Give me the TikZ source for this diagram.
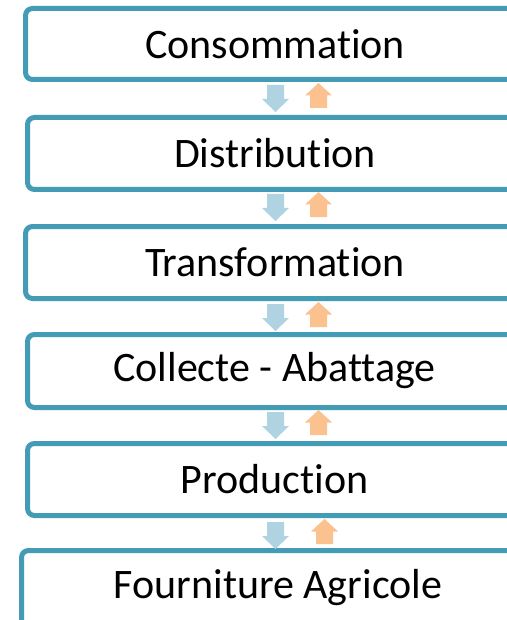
\documentclass[tikz,border=0pt]{standalone}
\usepackage{fontspec}
\setmainfont{Carlito}[Ligatures={NoCommon,NoContextual,NoRequired}]
\definecolor{bordc}{HTML}{449BB5}
\definecolor{downc}{HTML}{AFD3E1}
\definecolor{upc}{HTML}{FBC18F}
\begin{document}
\begin{tikzpicture}[x=1pt,y=-1pt,
  stage/.style={draw=bordc, line width=5pt, rounded corners=7pt},
  lab/.style={font=\fontsize{42}{50}\selectfont, inner sep=0pt},
  downarr/.pic={\fill[downc] (-8.5,0) -- (8.5,0) -- (8.5,14) -- (13.5,14) -- (0,27) -- (-13.5,14) -- (-8.5,14) -- cycle;},
  uparr/.pic={\fill[upc] (0,0) -- (13.5,12.5) -- (8.5,12.5) -- (8.5,25) -- (-8.5,25) -- (-8.5,12.5) -- (-13.5,12.5) -- cycle;}
]
\useasboundingbox (0,0) rectangle (506,620);
\fill[white] (0,0) rectangle (506,620);
\draw[stage] (520,8.5) -- (25.5,8.5) -- (25.5,79.5) -- (520,79.5);
\draw[stage] (520,117.5) -- (27.5,117.5) -- (27.5,189.5) -- (520,189.5);
\draw[stage] (520,226.5) -- (25.5,226.5) -- (25.5,298.5) -- (520,298.5);
\draw[stage] (520,334.5) -- (27.5,334.5) -- (27.5,407.5) -- (520,407.5);
\draw[stage] (520,443.5) -- (27.5,443.5) -- (27.5,515.5) -- (520,515.5);
\draw[stage] (520,550.5) -- (21.5,550.5) -- (21.5,630);
\node[lab] (t1) at (275,44) {Consommation};
\node[lab] (t2) at (275,153.5) {Distribution};
\node[lab] (t3) at (275,262.5) {Transformation};
\node[lab] (t4) at (274.5,371) {Collecte - Abattage};
\node[lab] (t5) at (274.5,479.5) {Production};
\node[lab] (t6) at (278,588) {Fourniture Agricole};
\pic at (275.5,85) {downarr};
\pic at (275.5,194) {downarr};
\pic at (275.5,304) {downarr};
\pic at (275.5,412) {downarr};
\pic at (275.5,522) {downarr};
\pic at (318.5,83) {uparr};
\pic at (318.5,192) {uparr};
\pic at (318.5,302) {uparr};
\pic at (318.5,410) {uparr};
\pic at (324.5,519) {uparr};
\end{tikzpicture}
\end{document}
